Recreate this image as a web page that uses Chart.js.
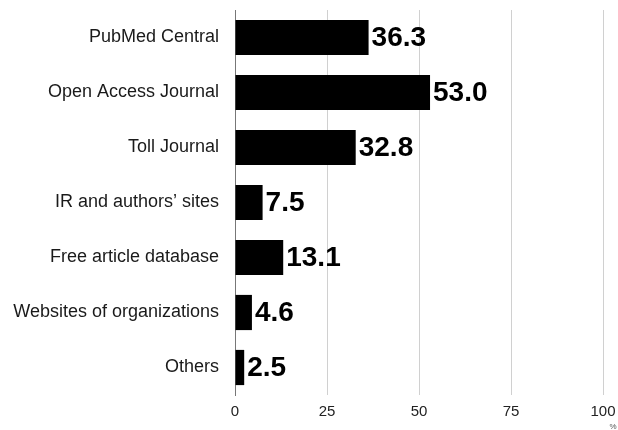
<!DOCTYPE html>
<html>
<head>
<meta charset="utf-8">
<script src="https://cdn.jsdelivr.net/npm/chart.js@4/dist/chart.umd.min.js"></script>
<style>
  html, body { margin: 0; padding: 0; background: #fff; }
  #wrap { width: 618px; height: 430px; }
</style>
</head>
<body>
<div id="wrap"><canvas id="sourcesChart" width="618" height="430"></canvas></div>
<script>
const categories = [
  'PubMed Central',
  'Open Access Journal',
  'Toll Journal',
  'IR and authors\u2019 sites',
  'Free article database',
  'Websites of organizations',
  'Others'
];
const shares = [36.3, 53.0, 32.8, 7.5, 13.1, 4.6, 2.5];
const xTicks = [0, 25, 50, 75, 100];

// draws the bold value next to every bar and the small % unit
const valueLabels = {
  id: 'valueLabels',
  afterDatasetsDraw(chart) {
    const ctx = chart.ctx;
    const meta = chart.getDatasetMeta(0);
    ctx.save();
    ctx.fillStyle = '#000';
    ctx.font = 'bold 28px "Liberation Sans", Arial, sans-serif';
    ctx.textAlign = 'left';
    ctx.textBaseline = 'middle';
    meta.data.forEach((bar, i) => {
      ctx.fillText(shares[i].toFixed(1), bar.x + 3, bar.y + 1);
    });
    ctx.font = '8px "Liberation Sans", Arial, sans-serif';
    ctx.fillStyle = '#555';
    ctx.textAlign = 'center';
    ctx.fillText('%', chart.scales.x.right + 10, chart.height - 3);
    ctx.restore();
  }
};

new Chart(document.getElementById('sourcesChart').getContext('2d'), {
  type: 'bar',
  data: {
    labels: categories,
    datasets: [{
      data: shares,
      backgroundColor: '#000',
      borderWidth: 0,
      barPercentage: 0.8,
      categoryPercentage: 0.8
    }]
  },
  options: {
    indexAxis: 'y',
    responsive: false,
    animation: false,
    layout: { padding: 0 },
    plugins: {
      legend: { display: false },
      tooltip: { enabled: false }
    },
    scales: {
      x: {
        min: 0,
        max: 100,
        afterBuildTicks(scale) {
          scale.ticks = xTicks.map(v => ({ value: v }));
        },
        afterFit(scale) {
          scale.height = 35;
          scale.paddingLeft = 0;
          scale.paddingRight = 15;
        },
        grid: {
          color: ctx => ctx.tick && ctx.tick.value === 0 ? 'rgba(0,0,0,0)' : '#d0d0d0',
          drawTicks: false
        },
        border: { display: false },
        ticks: {
          color: '#222',
          padding: 8,
          font: { family: '"Liberation Sans", Arial, sans-serif', size: 15 }
        }
      },
      y: {
        afterFit(scale) {
          scale.width = 235;
          scale.paddingTop = 10;
          scale.paddingBottom = 0;
        },
        grid: { display: false, drawTicks: false },
        border: { display: true, color: '#777', width: 1 },
        ticks: {
          color: '#1a1a1a',
          padding: 16,
          font: { family: '"Liberation Sans", Arial, sans-serif', size: 18 }
        }
      }
    }
  },
  plugins: [valueLabels]
});
</script>
</body>
</html>
